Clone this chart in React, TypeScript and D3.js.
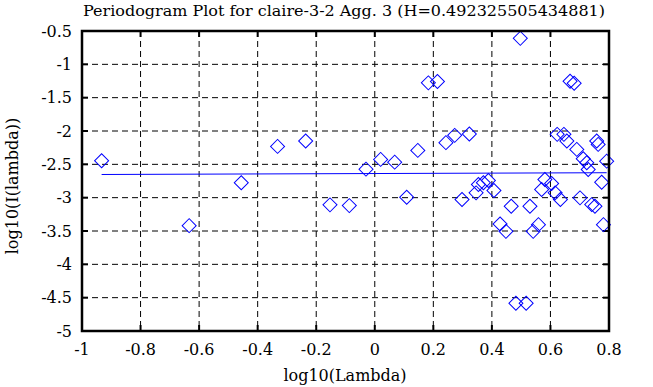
import { scaleLinear, symbol, symbolSquare, line } from "d3";

const H = 0.492325505434881;
const title = `Periodogram Plot for claire-3-2 Agg. 3 (H=${H})`;

const xTicks = [-1, -0.8, -0.6, -0.4, -0.2, 0, 0.2, 0.4, 0.6, 0.8];
const yTicks = [-0.5, -1, -1.5, -2, -2.5, -3, -3.5, -4, -4.5, -5];

// log10(lambda)
const logLambda = [
    -0.933, -0.634, -0.456, -0.332, -0.236, -0.153, -0.087, -0.03, 0.02, 0.068,
    0.109, 0.147, 0.183, 0.214, 0.243, 0.273, 0.298, 0.323, 0.346, 0.354,
    0.371, 0.388, 0.407, 0.428, 0.448, 0.466, 0.482, 0.497, 0.517, 0.53,
    0.541, 0.559, 0.57, 0.581, 0.604, 0.616, 0.623, 0.634, 0.646, 0.656,
    0.667, 0.681, 0.69, 0.701, 0.712, 0.724, 0.729, 0.741, 0.752, 0.758,
    0.763, 0.775, 0.781, 0.792,
];
// log10(I(lambda))
const logI = [
    -2.446, -3.42, -2.777, -2.231, -2.151, -3.108, -3.119, -2.572, -2.426, -2.467,
    -2.994, -2.291, -1.278, -1.257, -2.175, -2.065, -3.028, -2.046, -2.928, -2.803,
    -2.777, -2.742, -2.893, -3.394, -3.505, -3.129, -4.583, -0.61, -4.583, -3.129,
    -3.505, -3.405, -2.878, -2.727, -2.788, -2.928, -2.05, -3.028, -2.05, -2.151,
    -1.253, -1.283, -2.276, -3.003, -2.416, -2.476, -2.577, -3.104, -3.129, -2.151,
    -2.201, -2.768, -3.405, -2.452,
];
const fitIntercept = -2.638;
const fitSlope = 1 - 2 * H;

const W = 653;
const HT = 387;
const m = { left: 82, right: 609, top: 31, bottom: 331 };
const font = "'DejaVu Serif', serif";

function App() {
    const x = scaleLinear().domain([-1, 0.8]).range([m.left, m.right]);
    const y = scaleLinear().domain([-5, -0.5]).range([m.bottom, m.top]);

    const diamond = symbol(symbolSquare, 98)();
    const xMin = Math.min(...logLambda);
    const xMax = Math.max(...logLambda);
    const fitLine = line<number>()
        .x((d) => x(d))
        .y((d) => y(fitIntercept + fitSlope * d))([xMin, xMax]);

    return (
        <div style={{ position: "absolute", left: 0, top: 0 }}>
            <svg width={W} height={HT} style={{ display: "block", background: "#fff" }}>
                {/* grid */}
                {xTicks.slice(1, -1).map((t) => (
                    <line key={"gx" + t} x1={x(t)} x2={x(t)} y1={m.top} y2={m.bottom}
                        stroke="#000" strokeWidth={1} strokeDasharray="6,4" />
                ))}
                {yTicks.slice(1, -1).map((t) => (
                    <line key={"gy" + t} x1={m.left} x2={m.right} y1={y(t)} y2={y(t)}
                        stroke="#000" strokeWidth={1} strokeDasharray="6,4" />
                ))}
                {/* ticks inward */}
                {xTicks.map((t) => (
                    <g key={"tx" + t}>
                        <line x1={x(t)} x2={x(t)} y1={m.bottom} y2={m.bottom - 6} stroke="#000" strokeWidth={2} />
                        <line x1={x(t)} x2={x(t)} y1={m.top} y2={m.top + 6} stroke="#000" strokeWidth={2} />
                        <text x={x(t)} y={m.bottom + 24} textAnchor="middle" fontFamily={font} fontSize={16}>{t}</text>
                    </g>
                ))}
                {yTicks.map((t) => (
                    <g key={"ty" + t}>
                        <line x1={m.left} x2={m.left + 6} y1={y(t)} y2={y(t)} stroke="#000" strokeWidth={2} />
                        <line x1={m.right} x2={m.right - 6} y1={y(t)} y2={y(t)} stroke="#000" strokeWidth={2} />
                        <text x={m.left - 10} y={y(t)} dy="0.35em" textAnchor="end" fontFamily={font} fontSize={16}>{t}</text>
                    </g>
                ))}
                {/* fit line */}
                <path d={fitLine ?? ""} fill="none" stroke="#0000ff" strokeWidth={1} />
                {/* points */}
                {logLambda.map((d, i) => (
                    <path key={"p" + i} d={diamond ?? ""}
                        transform={`translate(${x(d)},${y(logI[i])}) rotate(45)`}
                        fill="none" stroke="#0000ff" strokeWidth={1} />
                ))}
                {/* frame */}
                <rect x={m.left} y={m.top} width={m.right - m.left} height={m.bottom - m.top}
                    fill="none" stroke="#000" strokeWidth={2.5} />
                <text x={344} y={16} textAnchor="middle" fontFamily={font} fontSize={15}
                    textLength={522} lengthAdjust="spacingAndGlyphs">{title}</text>
                <text x={345} y={381} textAnchor="middle" fontFamily={font} fontSize={16}>log10(Lambda)</text>
                <text transform={`translate(18,${(m.top + m.bottom) / 2 + 5}) rotate(-90)`} textAnchor="middle"
                    fontFamily={font} fontSize={16}>log10(I(lambda))</text>
            </svg>
        </div>
    );
}

export default App;
